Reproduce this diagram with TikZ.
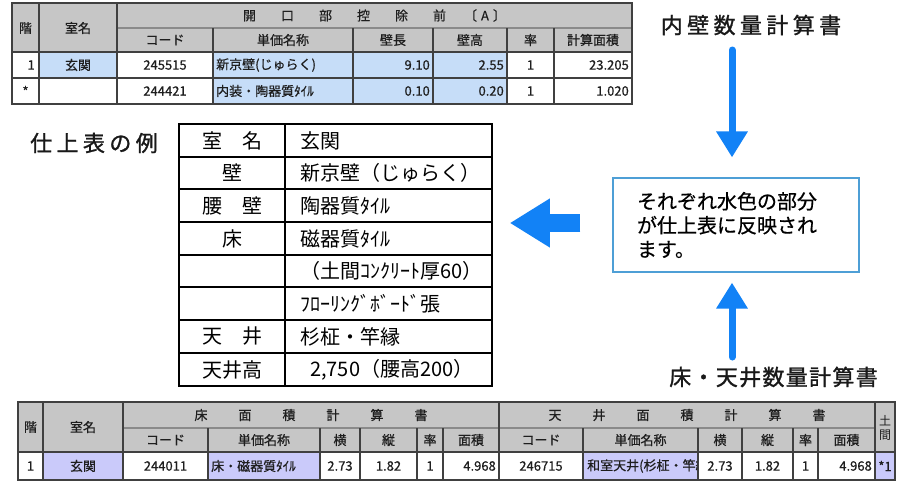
\documentclass[tikz,border=0pt]{standalone}
\usepackage{fontspec}
\setmainfont{Noto Sans CJK JP}
\usetikzlibrary{arrows.meta}
\definecolor{arrowblue}{HTML}{1282F6}
\definecolor{hdrgray}{HTML}{C6C6C6}
\definecolor{cellblue}{HTML}{C6DDF8}
\definecolor{celllav}{HTML}{CACAFA}
\definecolor{gridgray}{HTML}{404040}
\definecolor{sepgray}{HTML}{8A8A8A}
\definecolor{boxblue}{HTML}{4E9FD6}
\definecolor{txtdark}{HTML}{1E1E1E}
\newcommand\mygap{\hspace{25pt}}
\newcommand\mygapb{\hspace{31pt}}
\tikzset{
 tgrid/.style={draw=gridgray, line width=1.8pt},
 tsep/.style={draw=sepgray, line width=1.2pt},
 fgrid/.style={draw=black, line width=1.5pt},
 tcell/.style={inner sep=0pt, font=\fontsize{13}{15}\selectfont\addfontfeature{FakeBold=0.6}, text=txtdark},
 fcell/.style={inner sep=0pt, font=\fontsize{20}{22}\selectfont, text=black},
 lbl/.style={inner sep=2pt, font=\fontsize{22}{24}\selectfont, text=black!90},
 msgbox/.style={draw=boxblue, line width=1.2pt, text width=198pt, inner xsep=24pt, minimum height=94pt, align=left, font=\fontsize{20}{24}\selectfont},
 vflow/.style={draw=arrowblue, line width=7pt, line cap=round, -{Triangle[width=30pt,length=26pt]}},
 hflow/.style={draw=arrowblue, line width=18pt, -{Triangle[width=46pt,length=40pt]}},
}
\begin{document}
\begin{tikzpicture}[x=1pt,y=-1pt]
\useasboundingbox (0,0) rectangle (899,483);
\fill[white] (0,0) rectangle (899,483);
% ---------------- top table
\fill[hdrgray] (12,3) rectangle (632,52);
\fill[cellblue] (39,52) rectangle (117,78);
\fill[cellblue] (213,52) rectangle (507,104);
\draw[tsep] (117,28) -- (632,28);
\foreach \x in {213,353,433,507,554} \draw[tgrid] (\x,28) -- (\x,104);
\draw[tgrid] (12,52) -- (632,52);
\draw[tgrid] (12,78) -- (632,78);
\draw[tgrid] (39,3) -- (39,104);
\draw[tgrid] (117,3) -- (117,104);
\draw[tgrid] (12,3) rectangle (632,104);
\node[tcell] (ta1) at (25.5,28) {階};
\node[tcell] (ta2) at (78,28) {室名};
\node[tcell] (ta3) at (374.5,15.5) {開\mygap 口\mygap 部\mygap 控\mygap 除\mygap 前\hspace{18pt}〔\hspace{4pt}A\hspace{4pt}〕};
\node[tcell] (tb1) at (165,40) {コード};
\node[tcell] (tb2) at (283,40) {単価名称};
\node[tcell] (tb3) at (393,40) {壁長};
\node[tcell] (tb4) at (470,40) {壁高};
\node[tcell] (tb5) at (530.5,40) {率};
\node[tcell] (tb6) at (593,40) {計算面積};
\node[tcell, anchor=east] (tc1) at (35,65) {1};
\node[tcell] (tc2) at (78,65) {玄関};
\node[tcell] (tc3) at (165,65) {245515};
\node[tcell, anchor=west] (tc4) at (216,65) {新京壁(じゅらく)};
\node[tcell, anchor=east] (tc5) at (430,65) {9.10};
\node[tcell, anchor=east] (tc6) at (504,65) {2.55};
\node[tcell] (tc7) at (530.5,65) {1};
\node[tcell, anchor=east] (tc8) at (629,65) {23.205};
\node[tcell] (td1) at (25.5,91) {*};
\node[tcell] (td3) at (165,91) {244421};
\node[tcell, anchor=west] (td4) at (216,91) {内装・陶器質ﾀｲﾙ};
\node[tcell, anchor=east] (td5) at (430,91) {0.10};
\node[tcell, anchor=east] (td6) at (504,91) {0.20};
\node[tcell] (td7) at (530.5,91) {1};
\node[tcell, anchor=east] (td8) at (629,91) {1.020};
% ---------------- labels
\node[lbl] (lblTop) at (751,25) {\addfontfeature{LetterSpace=20,FakeBold=1.2}内壁数量計算書};
\node[lbl] (lblBot) at (773.5,377) {\addfontfeature{LetterSpace=6,FakeBold=1.2}床・天井数量計算書};
\node[lbl] (lblFin) at (94,143) {\addfontfeature{LetterSpace=20,FakeBold=1.2}仕上表の例};
% ---------------- finish table
\node[fgrid, minimum width=313pt, minimum height=262pt, inner sep=0pt] (fin) at (335.5,255) {};
\draw[fgrid] (285,124) -- (285,386);
\foreach \y in {157,189,222,255,287,320,353} \draw[fgrid] (179,\y) -- (492,\y);
\node[fcell] (fa1) at (232,140.5) {室　名};
\node[fcell, anchor=west] (fa2) at (300,140.5) {玄関};
\node[fcell] (fb1) at (232,173) {壁};
\node[fcell, anchor=west] (fb2) at (300,173) {新京壁（じゅらく）};
\node[fcell] (fc1) at (232,205.5) {腰　壁};
\node[fcell, anchor=west] (fc2) at (300,205.5) {陶器質ﾀｲﾙ};
\node[fcell] (fd1) at (232,238.5) {床};
\node[fcell, anchor=west] (fd2) at (300,238.5) {磁器質ﾀｲﾙ};
\node[fcell, anchor=west] (fe2) at (300,271) {（土間ｺﾝｸﾘｰﾄ厚60）};
\node[fcell, anchor=west] (ff2) at (300,303.5) {ﾌﾛｰﾘﾝｸﾞﾎﾞｰﾄﾞ張};
\node[fcell] (fg1) at (232,336.5) {天　井};
\node[fcell, anchor=west] (fg2) at (300,336.5) {杉柾・竿縁};
\node[fcell] (fh1) at (232,369.5) {天井高};
\node[fcell, anchor=west] (fh2) at (310,369.5) {2,750（腰高200）};
% ---------------- message box and arrows
\node[msgbox] (box) at (736,225) {\addfontfeature{FakeBold=0.6}それぞれ水色の部分\\が仕上表に反映され\\ます。};
\coordinate (dtop) at (732,50);
\coordinate (ubot) at (732,357);
\draw[vflow, shorten >=20pt] (dtop) -- (dtop |- box.north);
\draw[vflow, shorten >=10pt] (ubot) -- (ubot |- box.south);
\draw[hflow, shorten <=32pt, shorten >=17pt] ([yshift=2pt]box.west) -- ([yshift=2pt]box.west -| fin.east);
% ---------------- bottom table
\fill[hdrgray] (18,402) rectangle (895,452);
\fill[celllav] (43,452) rectangle (123,480);
\fill[celllav] (208,452) rectangle (320,480);
\fill[celllav] (583,452) rectangle (698,480);
\fill[celllav] (875,452) rectangle (895,480);
\draw[tsep] (123,428) -- (875,428);
\foreach \x in {208,320,360,417,443,583,698,742,793,818} \draw[tgrid] (\x,428) -- (\x,480);
\draw[tgrid] (18,452) -- (895,452);
\foreach \x in {43,123,499,875} \draw[tgrid] (\x,402) -- (\x,480);
\draw[tgrid] (18,402) rectangle (895,480);
\node[tcell] (ba1) at (30.5,427) {階};
\node[tcell] (ba2) at (83,427) {室名};
\node[tcell] (ba3) at (311,415) {床\mygapb 面\mygapb 積\mygapb 計\mygapb 算\mygapb 書};
\node[tcell] (ba4) at (687,415) {天\mygapb 井\mygapb 面\mygapb 積\mygapb 計\mygapb 算\mygapb 書};
\node[tcell, align=center, font=\fontsize{12}{14}\selectfont] (ba5) at (885,428) {土\\間};
\node[tcell] (bb1) at (165.5,440) {コード};
\node[tcell] (bb2) at (264,440) {単価名称};
\node[tcell] (bb3) at (340,440) {横};
\node[tcell] (bb4) at (388.5,440) {縦};
\node[tcell] (bb5) at (430,440) {率};
\node[tcell] (bb6) at (471,440) {面積};
\node[tcell] (bb7) at (541,440) {コード};
\node[tcell] (bb8) at (640.5,440) {単価名称};
\node[tcell] (bb9) at (720,440) {横};
\node[tcell] (bb10) at (767.5,440) {縦};
\node[tcell] (bb11) at (805.5,440) {率};
\node[tcell] (bb12) at (846.5,440) {面積};
\node[tcell] (bc1) at (30.5,466) {1};
\node[tcell] (bc2) at (83,466) {玄関};
\node[tcell] (bc3) at (165.5,466) {244011};
\node[tcell, anchor=west] (bc4) at (211,466) {床・磁器質ﾀｲﾙ};
\node[tcell] (bc5) at (340,466) {2.73};
\node[tcell] (bc6) at (388.5,466) {1.82};
\node[tcell] (bc7) at (430,466) {1};
\node[tcell, anchor=east] (bc8) at (496,466) {4.968};
\node[tcell] (bc9) at (541,466) {246715};
\begin{scope}
\clip (584,453) rectangle (697,479);
\node[tcell, anchor=west] (bc10) at (587,466) {和室天井(杉柾・竿縁};
\end{scope}
\node[tcell] (bc11) at (720,466) {2.73};
\node[tcell] (bc12) at (767.5,466) {1.82};
\node[tcell] (bc13) at (805.5,466) {1};
\node[tcell, anchor=east] (bc14) at (872,466) {4.968};
\node[tcell] (bc15) at (885,466) {*1};
\end{tikzpicture}
\end{document}
